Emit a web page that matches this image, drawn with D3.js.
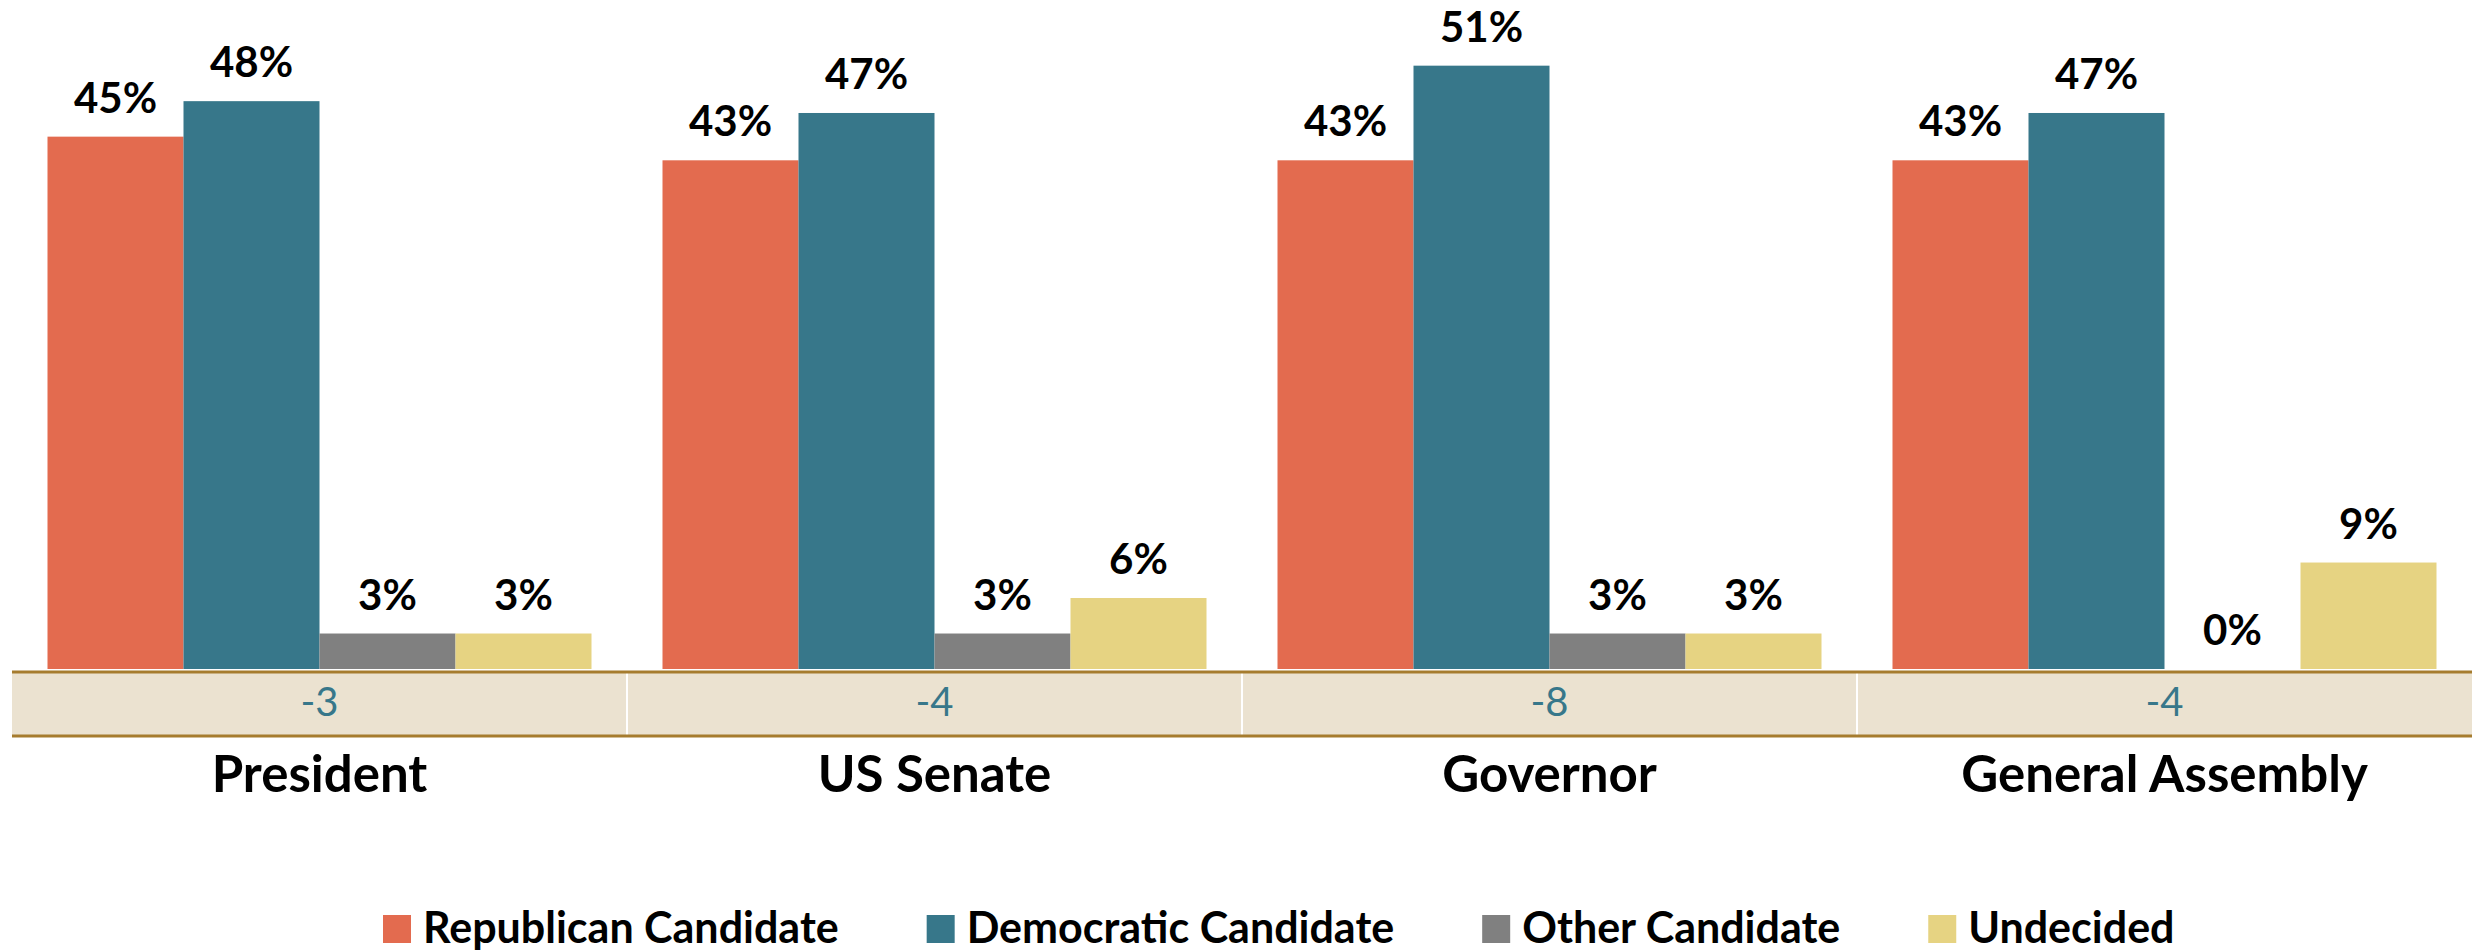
<!DOCTYPE html>
<html>
<head>
<meta charset="utf-8">
<script src="https://cdn.jsdelivr.net/npm/d3@7"></script>
<style>
  html, body { margin: 0; padding: 0; background: #ffffff; }
  svg { display: block; }
</style>
</head>
<body>
<svg id="chart" width="2478" height="951"></svg>
<script>
// ---- data ----
const categories = ["President", "US Senate", "Governor", "General Assembly"];
const seriesNames = ["Republican Candidate", "Democratic Candidate", "Other Candidate", "Undecided"];
const republican = [45, 43, 43, 43];
const democratic = [48, 47, 51, 47];
const other = [3, 3, 3, 0];
const undecided = [3, 6, 3, 9];
const margins = ["-3", "-4", "-8", "-4"];

const seriesValues = [republican, democratic, other, undecided];
const colors = ["#E36B4F", "#37778A", "#808080", "#E6D382"];

const FONT = "Lato, 'Open Sans', sans-serif";
const svg = d3.select("#chart");

// scales
const x0 = d3.scaleBand().domain(categories).range([12, 2472]).padding(0);
const x1 = d3.scaleBand().domain(seriesNames).range([35.5, x0.bandwidth() - 35.5]).padding(0);
const y = d3.scaleLinear().domain([0, 50]).range([669, 77.5]);

const rows = categories.map((c, i) => ({
  cat: c,
  vals: seriesNames.map((s, j) => ({ series: s, value: seriesValues[j][i], color: colors[j] }))
}));

// ---- bars ----
const groups = svg.append("g").selectAll("g.grp").data(rows).join("g")
  .attr("class", "grp")
  .attr("transform", d => `translate(${x0(d.cat)},0)`);

groups.selectAll("rect").data(d => d.vals).join("rect")
  .attr("x", d => x1(d.series))
  .attr("width", x1.bandwidth())
  .attr("y", d => y(d.value))
  .attr("height", d => y(0) - y(d.value))
  .attr("fill", d => d.color);

groups.selectAll("text.val").data(d => d.vals).join("text")
  .attr("class", "val")
  .attr("x", d => x1(d.series) + x1.bandwidth() / 2)
  .attr("y", d => y(d.value) - 24)
  .attr("text-anchor", "middle")
  .attr("font-family", FONT)
  .attr("font-weight", 700)
  .attr("font-size", 42)
  .attr("fill", "#000")
  .text(d => d.value + "%");

// ---- margin table ----
const table = svg.append("g");
table.append("rect")
  .attr("x", x0.range()[0]).attr("y", 672)
  .attr("width", x0.range()[1] - x0.range()[0]).attr("height", 64)
  .attr("fill", "#EBE2D0");
table.selectAll("line.div").data(categories.slice(1)).join("line")
  .attr("class", "div")
  .attr("x1", d => x0(d)).attr("x2", d => x0(d))
  .attr("y1", 672).attr("y2", 736)
  .attr("stroke", "#ffffff").attr("stroke-width", 2);
[672, 736].forEach(yy => {
  table.append("line")
    .attr("x1", x0.range()[0]).attr("x2", x0.range()[1])
    .attr("y1", yy).attr("y2", yy)
    .attr("stroke", "#A67C2E").attr("stroke-width", 3);
});
table.selectAll("text.margin").data(categories).join("text")
  .attr("class", "margin")
  .attr("x", d => x0(d) + x0.bandwidth() / 2)
  .attr("y", 716)
  .attr("text-anchor", "middle")
  .attr("font-family", FONT)
  .attr("font-size", 40)
  .attr("fill", "#37778A")
  .text((d, i) => margins[i]);

// ---- category axis labels ----
const xAxis = d3.axisBottom(x0).tickSize(0).tickPadding(0);
const axisG = svg.append("g").attr("transform", "translate(0,792)").call(xAxis);
axisG.select(".domain").remove();
axisG.selectAll("text")
  .attr("dy", 0)
  .attr("y", 0)
  .attr("font-family", FONT)
  .attr("font-weight", 700)
  .attr("font-size", 51)
  .attr("fill", "#000");

// ---- legend ----
const legend = svg.append("g");
let lx = 383;
seriesNames.forEach((s, j) => {
  legend.append("rect")
    .attr("x", lx).attr("y", 915).attr("width", 28).attr("height", 28)
    .attr("fill", colors[j]);
  const t = legend.append("text")
    .attr("x", lx + 40).attr("y", 943)
    .attr("font-family", FONT)
    .attr("font-weight", 700)
    .attr("font-size", 43)
    .attr("fill", "#000")
    .text(s);
  lx = lx + 40 + t.node().getComputedTextLength() + 88;
});
</script>
</body>
</html>
